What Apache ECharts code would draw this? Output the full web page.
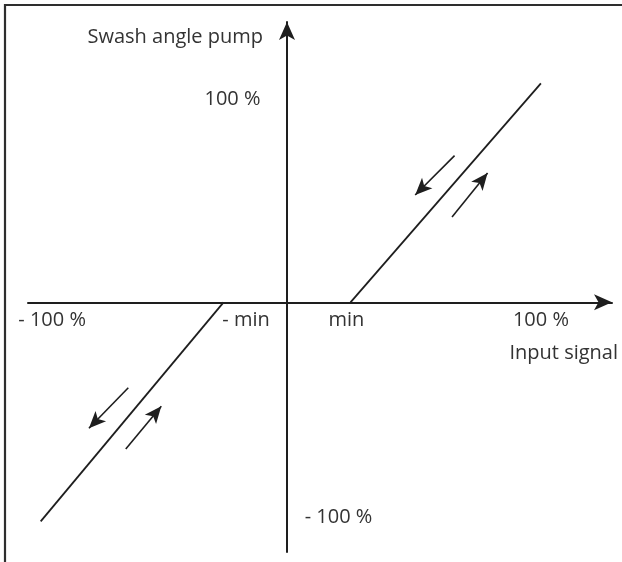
<!DOCTYPE html>
<html>
<head>
<meta charset="utf-8">
<title>Swash angle pump vs. input signal</title>
<script src="https://cdn.jsdelivr.net/npm/echarts@6/dist/echarts.min.js"></script>
<style>
  html, body { margin: 0; padding: 0; background: #ffffff; }
  #chart { width: 622px; height: 562px; }
</style>
</head>
<body>
<div id="chart"></div>
<script>
// Axis ranges (percent of full signal / full swash angle)
const xRange = [-102, 128];
const yRange = [-114, 128];

// Tick labels on the input-signal axis
const xTickValues = [-100, -25, 25, 100];
const xTickLabels = ['- 100 %', '- min', 'min', '100 %'];

// Tick labels on the swash-angle axis
const yTickValues = [100, -100];
const yTickLabels = ['100 %', '- 100 %'];

// Characteristic: dead band between -min and min, linear beyond
const forwardBranch = [[25, 0], [100, 100]];
const reverseBranch = [[-25, 0], [-97, -100]];

// Direction arrows drawn alongside each branch: [from, to]
const directionArrows = [
  [[66, 67], [50.5, 49]],
  [[65, 39], [79, 59]],
  [[-62.5, -39], [-78, -57.5]],
  [[-63.5, -67], [-49.5, -47.5]]
];

const ink = '#1e1e1e';
const textInk = '#333333';
const font = '"Open Sans", "DejaVu Sans", sans-serif';
const fontSize = 20;

// per-label offsets so each tick text sits beside its axis the way the diagram wants
const xLabelRich = {
  nm100: { padding: [0, 0, 0, 38] },
  nmin: { padding: [0, 0, 0, 45] },
  pmin: { padding: [0, 8, 0, 0] },
  p100: { padding: [0, 0, 0, 0] }
};
const xLabelKeys = ['nm100', 'nmin', 'pmin', 'p100'];

const yLabelRich = {
  up: { padding: [32, 109, 0, 0] },
  down: { padding: [0, 0, 8, 103] }
};
const yLabelKeys = ['up', 'down'];

function tagRich(rich) {
  const out = {};
  Object.keys(rich).forEach(function (k) {
    out[k] = Object.assign({ fontFamily: font, fontSize: fontSize, color: textInk }, rich[k]);
  });
  return out;
}

function axisStyle() {
  return {
    onZero: true,
    symbol: ['none', 'arrow'],
    symbolSize: [12, 18],
    lineStyle: { color: ink, width: 2 }
  };
}

const chart = echarts.init(document.getElementById('chart'), null, { renderer: 'canvas' });

chart.setOption({
  animation: false,
  backgroundColor: '#ffffff',
  textStyle: { fontFamily: font },
  graphic: [{
    type: 'rect',
    silent: true,
    shape: { x: 5, y: 5, width: 800, height: 800 },
    style: { fill: 'none', stroke: '#2e2e2e', lineWidth: 2.2 }
  }],
  grid: {
    left: 28, right: 10, top: 22, bottom: 10,
    containLabel: false,
    outerBoundsMode: 'none'
  },
  xAxis: {
    type: 'value',
    min: xRange[0],
    max: xRange[1],
    name: 'Input signal',
    nameLocation: 'end',
    nameGap: 6,
    nameMoveOverlap: false,
    nameTextStyle: {
      fontFamily: font, fontSize: fontSize, color: textInk,
      align: 'right', verticalAlign: 'top', padding: [41, 0, 0, 0]
    },
    axisLine: axisStyle(),
    axisTick: { show: false },
    splitLine: { show: false },
    axisLabel: { show: false }
  },
  yAxis: {
    type: 'value',
    min: yRange[0],
    max: yRange[1],
    name: 'Swash angle pump',
    nameLocation: 'end',
    nameGap: -15,
    nameMoveOverlap: false,
    nameTextStyle: {
      fontFamily: font, fontSize: fontSize, color: textInk,
      align: 'right', verticalAlign: 'middle', padding: [0, 24, 0, 0]
    },
    axisLine: axisStyle(),
    axisTick: { show: false },
    splitLine: { show: false },
    axisLabel: { show: false }
  },
  series: [
    {
      name: 'forward',
      type: 'line',
      data: forwardBranch,
      symbol: 'none',
      silent: true,
      lineStyle: { color: ink, width: 1.8 }
    },
    {
      name: 'reverse',
      type: 'line',
      data: reverseBranch,
      symbol: 'none',
      silent: true,
      lineStyle: { color: ink, width: 1.8 }
    },
    {
      name: 'direction',
      type: 'line',
      data: [],
      silent: true,
      markLine: {
        silent: true,
        animation: false,
        symbol: ['none', 'arrow'],
        symbolSize: [11, 17],
        label: { show: false },
        lineStyle: { color: ink, width: 1.6, type: 'solid' },
        emphasis: { disabled: true },
        data: directionArrows.map(function (a) {
          return [{ coord: a[0] }, { coord: a[1] }];
        })
      }
    },
    {
      // tick texts along the input-signal axis
      name: 'xTicks',
      type: 'scatter',
      silent: true,
      symbolSize: 0,
      itemStyle: { opacity: 1 },
      data: xTickValues.map(function (v) { return [v, 0]; }),
      label: {
        show: true,
        opacity: 1,
        position: 'bottom',
        distance: 8,
        align: 'center',
        verticalAlign: 'top',
        formatter: function (p) {
          return '{' + xLabelKeys[p.dataIndex] + '|' + xTickLabels[p.dataIndex] + '}';
        },
        rich: tagRich(xLabelRich)
      }
    },
    {
      // tick texts along the swash-angle axis
      name: 'yTicks',
      type: 'scatter',
      silent: true,
      symbolSize: 0,
      itemStyle: { opacity: 1 },
      data: yTickValues.map(function (v) { return [0, v]; }),
      label: {
        show: true,
        opacity: 1,
        position: 'inside',
        align: 'center',
        verticalAlign: 'middle',
        formatter: function (p) {
          return '{' + yLabelKeys[p.dataIndex] + '|' + yTickLabels[p.dataIndex] + '}';
        },
        rich: tagRich(yLabelRich)
      }
    }
  ]
});
</script>
</body>
</html>
